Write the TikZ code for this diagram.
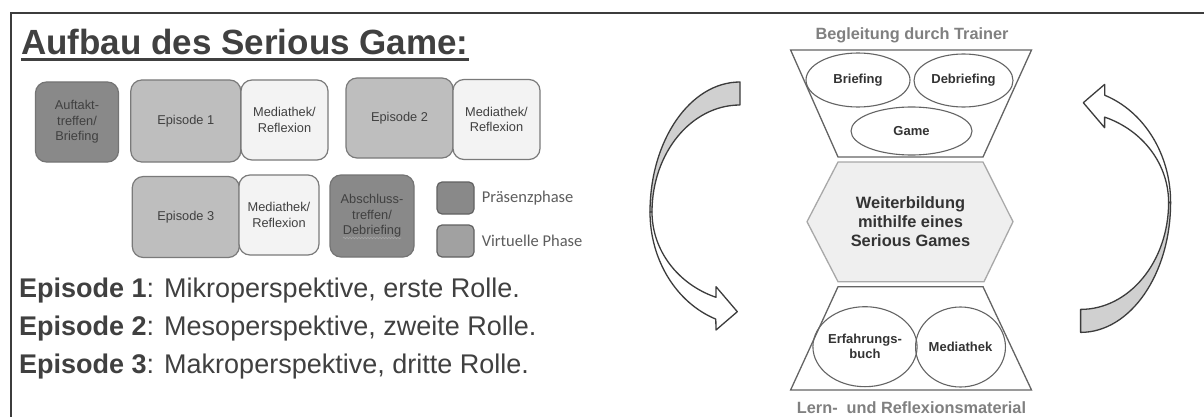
\documentclass[tikz,border=0pt]{standalone}
\usepackage{fontspec}
\setmainfont{Liberation Sans}
\newfontfamily\legendfont{Carlito}
\usetikzlibrary{positioning,shapes.geometric,decorations.pathmorphing}
\definecolor{txtgray}{RGB}{64,64,64}
\definecolor{framegray}{RGB}{60,60,60}
\definecolor{presgray}{RGB}{137,137,137}
\definecolor{epigray}{RGB}{190,190,190}
\definecolor{medgray}{RGB}{243,243,243}
\definecolor{boxline}{RGB}{122,122,122}
\definecolor{labelgray}{RGB}{128,128,128}
\definecolor{hexfill}{RGB}{239,239,239}
\definecolor{hexline}{RGB}{168,168,168}
\definecolor{bandgray}{RGB}{208,208,208}
\definecolor{shapeline}{RGB}{100,100,100}

\tikzset{
  phase/.style={draw=boxline, line width=1.2pt, rounded corners=11pt, align=center,
    text=txtgray, font=\fontsize{12.8}{15.5}\selectfont, inner sep=0pt},
  pres/.style={phase, fill=presgray, draw=presgray!85!black},
  virt/.style={phase, fill=epigray},
  media/.style={phase, fill=medgray},
  legbox/.style={draw=boxline!80!black, line width=1.2pt, rounded corners=5pt,
    minimum width=37pt, minimum height=32pt, inner sep=0pt},
  legtext/.style={font=\legendfont\fontsize{16.5}{19}\selectfont, text=txtgray!85, inner sep=0pt},
  bubble/.style={ellipse, draw=shapeline, line width=1.1pt, align=center, inner sep=0pt,
    font=\bfseries\fontsize{13}{15}\selectfont, text=txtgray!80!black},
  band/.style={draw=framegray, line width=1.3pt, line join=round},
  sidelabel/.style={font=\bfseries\fontsize{16.3}{19}\selectfont, text=labelgray, inner sep=0pt},
  episode/.style={anchor=base west, inner sep=0pt, font=\fontsize{27}{32}\selectfont, text=txtgray}
}

\begin{document}
\begin{tikzpicture}[x=1pt,y=-1pt]
  \useasboundingbox (0,0) rectangle (1204,417);
  \fill[white] (0,0) rectangle (1204,417);
  \draw[framegray, line width=2pt] (11,417) -- (11,12.7) -- (1204,12.7);

  % Aufbau
  \node[anchor=base west, inner sep=0pt, text=txtgray,
    font=\bfseries\fontsize{35}{40}\selectfont] (title) at (21,55) {Aufbau des Serious Game:};
  \draw[txtgray, line width=2.6pt] ([yshift=-4.5pt]title.base west) -- ([yshift=-4.5pt]title.base east);

  \node[pres, minimum width=83pt, minimum height=80pt] (auftakt) at (77,122) {Auftakt-\\treffen/\\Briefing};
  \node[virt, minimum width=110pt, minimum height=82pt] (epi1) at (185.8,121) {Episode 1};
  \node[media, minimum width=87pt, minimum height=80pt] (med1) at (284.5,120) {Mediathek/\\Reflexion};
  \node[virt, minimum width=107pt, minimum height=80pt] (epi2) at (399.5,118) {Episode 2};
  \node[media, minimum width=87pt, minimum height=80pt] (med2) at (496.5,119.5) {Mediathek/\\Reflexion};

  \node[virt, minimum width=107pt, minimum height=81pt] (epi3) at (185.8,217) {Episode 3};
  \node[media, minimum width=80pt, minimum height=80pt] (med3) at (279,215) {Mediathek/\\Reflexion};
  \node[pres, minimum width=84pt, minimum height=82pt] (abschluss) at (372,216) {Abschluss-\\treffen/\\Debriefing};
  \draw[labelgray!70, line width=0.6pt, decorate, decoration={snake, amplitude=0.8pt, segment length=3pt}]
    ([xshift=-29pt,yshift=-22pt]abschluss.center) -- ([xshift=29pt,yshift=-22pt]abschluss.center);

  \node[legbox, fill=presgray] (legpres) at (455.5,198) {};
  \node[legbox, fill=epigray!85!black] (legvirt) at (455.5,241) {};
  \node[legtext, anchor=west, right=7pt of legpres] (legpreslabel) {Präsenzphase};
  \node[legtext, anchor=west, right=7pt of legvirt] (legvirtlabel) {Virtuelle Phase};

  \node[episode] (line1) at (19,297) {\textbf{Episode 1}: Mikroperspektive, erste Rolle.};
  \node[episode] (line2) at (19,335) {\textbf{Episode 2}: Mesoperspektive, zweite Rolle.};
  \node[episode] (line3) at (19,373) {\textbf{Episode 3}: Makroperspektive, dritte Rolle.};

  % Weiterbildung
  \node[sidelabel] (trainer) at (912,35) {Begleitung durch Trainer};
  \draw[shapeline, line width=1.3pt, fill=white] (790.6,50) -- (1031.5,50) -- (983,157) -- (838,157) -- cycle;
  \node[bubble, minimum width=104pt, minimum height=54pt] (briefing) at (858,80) {Briefing};
  \node[bubble, minimum width=99pt, minimum height=53pt] (debriefing) at (963.5,80.5) {Debriefing};
  \node[bubble, minimum width=121pt, minimum height=48pt] (game) at (911.5,131) {Game};

  \draw[hexline, line width=1.3pt, fill=hexfill] (838,162) -- (983,162) -- (1013,221.7)
    -- (984,281.7) -- (838,281.7) -- (807,221.7) -- cycle;
  \node[align=center, text=txtgray!80!black, font=\bfseries\fontsize{16.4}{19}\selectfont]
    (center) at (910.5,222) {Weiterbildung\\mithilfe eines\\Serious Games};

  \draw[shapeline, line width=1.3pt, fill=white] (838,286.7) -- (983,286.7) -- (1031.5,390) -- (790.6,390) -- cycle;
  \node[bubble, minimum width=102pt, minimum height=80pt] (buch) at (865,346.7) {Erfahrungs-\\buch};
  \node[bubble, minimum width=85pt, minimum height=80pt] (mediathek) at (960.5,347) {Mediathek};
  \node[sidelabel] (material) at (911.5,408) {Lern-\ \ und Reflexionsmaterial};

  % curved arrows
  \foreach \turn in {0,180}{
    \begin{scope}[rotate around={\turn:(910.3,207.2)}]
      \draw[band, fill=bandgray] (740,82) arc[start angle=270, end angle=180, x radius=90, y radius=130]
        -- (652,212) arc[start angle=180, end angle=270, x radius=88, y radius=107] -- cycle;
      \draw[band, fill=white] (650,212) arc[start angle=180, end angle=110, x radius=100, y radius=114]
        -- (716,330) -- (737.3,311.7) -- (716,286.7) -- (716,297.3)
        arc[start angle=110.3, end angle=180, x radius=98, y radius=91] -- cycle;
    \end{scope}
  }
\end{tikzpicture}
\end{document}
